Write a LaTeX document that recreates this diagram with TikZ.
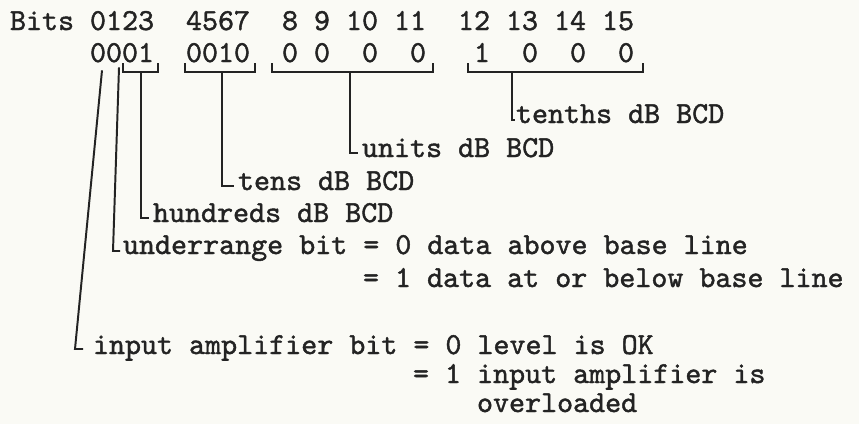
\documentclass[tikz,border=0pt]{standalone}
\usepackage{fontspec}
\usetikzlibrary{calc}
\newfontfamily\typer{lmmono10-regular.otf}[FakeBold=1.4]
\definecolor{paper}{RGB}{250,250,245}
\definecolor{ink}{RGB}{35,35,35}
\begin{document}
\begin{tikzpicture}[
    x=0.025cm, y=-0.025cm,
    typed/.style={anchor=base west, inner sep=0pt, outer sep=0pt, text=ink,
        font=\fontsize{21.7}{26}\selectfont\typer},
    lead/.style={draw=ink, line width=1.4pt}
]
    \fill[paper] (0,0) rectangle (859,424);
    \useasboundingbox (0,0) rectangle (859,424);

    % bit numbers
    \foreach \l/\c [count=\i] in {Bits/0, 0123/5, 4567/11, 8/17, 9/19, 10/21, 11/24, 12/28, 13/31, 14/34, 15/37} {
        \node[typed] (n\i) at ({10+16*\c}, 30) {\l};
    }
    % data word
    \foreach \l/\c [count=\i] in {0/5, 0/6, 0/7, 1/8, 0/11, 0/12, 1/13, 0/14, 0/17, 0/19, 0/22, 0/25, 1/29, 0/32, 0/35, 0/38} {
        \node[typed] (d\i) at ({10+16*\c}, 62) {\l};
    }

    % brackets under the groups
    \foreach \a/\b/\m/\name in {123/158/141/hundA, 185/255/222/tensA, 272/433/350/unitsA, 468/643/512/tenthsA} {
        \draw[lead] (\a,63) -- (\a,72) -- (\b,72) -- (\b,63);
        \coordinate (\name) at (\m,72);
    }

    \node[typed] (tenths) at (516,123) {tenths dB BCD};
    \node[typed] (units) at (362,157) {units dB BCD};
    \node[typed] (tens) at (238,190) {tens dB BCD};
    \node[typed] (hund) at (153,222) {hundreds dB BCD};
    \node[typed] (under) at (123,254) {underrange bit = 0 data above base line};
    \node[typed] (underB) at (363,287) {= 1 data at or below base line};
    \node[typed] (amp) at (93,354) {input amplifier bit = 0 level is OK};
    \node[typed] (ampB) at (413,383) {= 1 input amplifier is};
    \node[typed] (ampC) at (477,412) {overloaded};

    \draw[lead] (tenthsA) |- ([shift={(-1,-3)}]tenths.base west);
    \draw[lead] (unitsA) |- ([shift={(-4,-4)}]units.base west);
    \draw[lead] (tensA) |- ([shift={(-4,-4)}]tens.base west);
    \draw[lead] (hundA) |- ([shift={(-4,-4)}]hund.base west);
    % single bits 0 and 1
    \draw[lead] ([shift={(5,5)}]d2.south) -- ([shift={(-10,-3)}]under.base west) -- ([shift={(-3,-3)}]under.base west);
    \draw[lead] ([shift={(4,8)}]d1.south) -- ([shift={(-18,-5)}]amp.base west) -- ([shift={(-10,-5)}]amp.base west);
\end{tikzpicture}
\end{document}
